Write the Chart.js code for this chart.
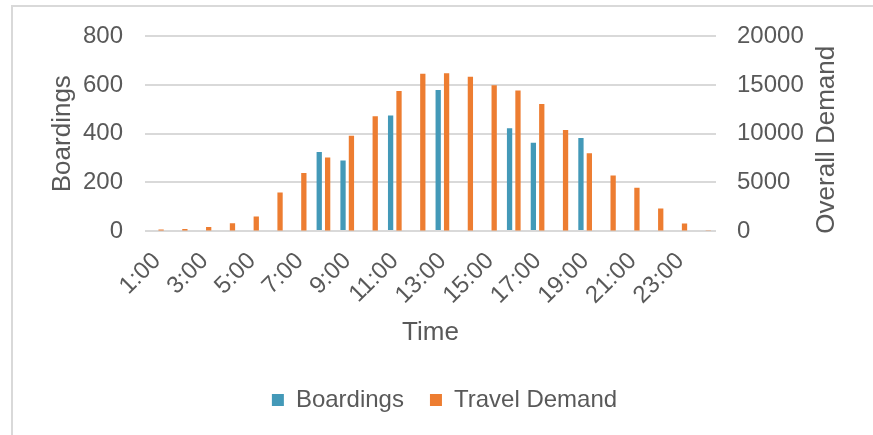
<!DOCTYPE html>
<html>
<head>
<meta charset="utf-8">
<script src="https://cdn.jsdelivr.net/npm/chart.js@4/dist/chart.umd.min.js"></script>
<style>
  html, body { margin: 0; padding: 0; background: #fff; overflow: hidden; }
  #wrap { position: relative; width: 873px; height: 435px; }
  #frame { position: absolute; left: 11px; top: 5px; width: 900px; height: 500px; border: 2px solid #d9d9d9; box-sizing: border-box; }
  canvas { position: absolute; left: 0; top: 0; }
</style>
</head>
<body>
<div id="wrap">
  <div id="frame"></div>
  <canvas id="c" width="873" height="435"></canvas>
</div>
<script>
const hours = ['1:00','2:00','3:00','4:00','5:00','6:00','7:00','8:00','9:00','10:00','11:00','12:00',
               '13:00','14:00','15:00','16:00','17:00','18:00','19:00','20:00','21:00','22:00','23:00','24:00'];
const boardings = [null,null,null,null,null,null,null,325,290,null,475,null,
                   580,null,null,422,363,null,382,null,null,null,null,null];
const travelDemand = [150,200,400,800,1500,3950,5950,7550,9800,11800,14400,16150,
                      16200,15850,14980,14450,13050,10380,8000,5700,4450,2300,780,80];
const leftTicks = [0,200,400,600,800];
const rightTicks = [0,5000,10000,15000,20000];
const rightTitle = 'Overall Demand';

const textColor = '#595959';
const fontFam = "'Liberation Sans', Arial, sans-serif";

// Right axis title reads bottom-to-top like the reference (Chart.js rotates right titles the other way)
const rightTitlePlugin = {
  id: 'rightTitle',
  afterDraw(chart) {
    const ctx = chart.ctx;
    const area = chart.chartArea;
    ctx.save();
    ctx.fillStyle = textColor;
    ctx.font = '26px ' + fontFam;
    ctx.textAlign = 'center';
    ctx.textBaseline = 'middle';
    ctx.translate(827, (area.top + area.bottom) / 2 + 6);
    ctx.rotate(-Math.PI / 2);
    ctx.fillText(rightTitle, 0, 0);
    ctx.restore();
  }
};

new Chart(document.getElementById('c'), {
  type: 'bar',
  data: {
    labels: hours,
    datasets: [
      { label: 'Boardings', data: boardings, backgroundColor: '#4399B8', yAxisID: 'y',
        categoryPercentage: 0.706, barPercentage: 0.63 },
      { label: 'Travel Demand', data: travelDemand, backgroundColor: '#ED7D31', yAxisID: 'y1',
        categoryPercentage: 0.706, barPercentage: 0.63 }
    ]
  },
  plugins: [rightTitlePlugin],
  options: {
    responsive: false,
    animation: false,
    layout: { padding: { top: 35, left: 16, right: 0, bottom: 13 } },
    plugins: {
      tooltip: { enabled: false },
      legend: {
        position: 'bottom',
        labels: { boxWidth: 12, boxHeight: 12, padding: 26, color: textColor,
                  font: { family: fontFam, size: 24 } }
      }
    },
    scales: {
      x: {
        grid: { display: false },
        border: { display: false },
        ticks: {
          autoSkip: false, maxRotation: 45, minRotation: 45, padding: 8,
          color: textColor, font: { family: fontFam, size: 24 },
          callback: function(v, i) { return i % 2 === 0 ? hours[i] : ''; }
        },
        title: { display: true, text: 'Time', color: textColor,
                 font: { family: fontFam, size: 26 }, padding: { top: 0, bottom: 14 } },
        afterFit: function(s) { s.height = 131; }
      },
      y: {
        position: 'left', min: 0, max: 800,
        afterBuildTicks: function(s) { s.ticks = leftTicks.map(v => ({ value: v })); },
        grid: { color: '#d9d9d9', lineWidth: 2, drawTicks: false },
        border: { display: false },
        ticks: { padding: 22, color: textColor, font: { family: fontFam, size: 24 } },
        title: { display: true, text: 'Boardings', color: textColor,
                 font: { family: fontFam, size: 26 }, padding: { top: 31, bottom: 0 } },
        afterFit: function(s) { s.width = 129; }
      },
      y1: {
        position: 'right', min: 0, max: 20000,
        afterBuildTicks: function(s) { s.ticks = rightTicks.map(v => ({ value: v })); },
        grid: { drawOnChartArea: false, drawTicks: false },
        border: { display: false },
        ticks: { padding: 21, color: textColor, font: { family: fontFam, size: 24 },
                 callback: function(v) { return String(v); } },
        title: { display: false },
        afterFit: function(s) { s.width = 157; }
      }
    }
  }
});
</script>
</body>
</html>
